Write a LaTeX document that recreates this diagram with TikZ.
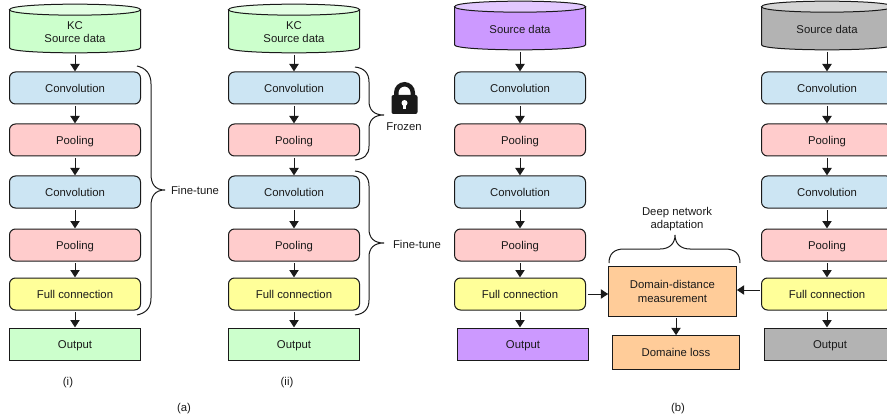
\documentclass[tikz,border=0pt]{standalone}
\usepackage{fontspec}
\setmainfont{Liberation Sans}
\usetikzlibrary{arrows.meta}
\definecolor{ink}{HTML}{1A1A1A}
\definecolor{cgreen}{HTML}{CCFFCC}
\definecolor{cgreenl}{HTML}{E4FFE4}
\definecolor{cblue}{HTML}{CCE5F3}
\definecolor{cpink}{HTML}{FFCCCC}
\definecolor{cyell}{HTML}{FFFF99}
\definecolor{cpurp}{HTML}{CC99FF}
\definecolor{cpurpl}{HTML}{E2C8FF}
\definecolor{cgrey}{HTML}{B3B3B3}
\definecolor{cgreyl}{HTML}{D4D4D4}
\definecolor{corng}{HTML}{FFCC99}
\newcommand{\dbshape}[3]{%
  \path (#1.north west) ++(0,5.5) coordinate (#1tl);
  \path (#1.north east) ++(0,5.5) coordinate (#1tr);
  \path (#1.south west) ++(0,-5) coordinate (#1bl);
  \path (#1.south east) ++(0,-5) coordinate (#1br);
  \draw[dbline,fill=#2] (#1tl) -- (#1bl) .. controls ([yshift=-5pt]#1bl) and ([yshift=-5pt]#1br) .. (#1br) -- (#1tr) -- cycle;
  \draw[dbline,fill=#3] (#1tl) .. controls ([yshift=5.5pt]#1tl) and ([yshift=5.5pt]#1tr) .. (#1tr)
     .. controls ([yshift=-5.5pt]#1tr) and ([yshift=-5.5pt]#1tl) .. (#1tl) -- cycle;
}
\tikzset{
  x=0.75pt,y=-0.75pt,
  lbl/.style={font=\fontsize{8.5pt}{9.9pt}\selectfont,text=ink,align=center,inner sep=0pt,outer sep=0pt},
  one/.style={lbl,text height=6.1pt,text depth=0pt},
  base/.style={draw=ink,line width=0.75pt,minimum width=98.25pt,minimum height=24pt},
  rbox/.style={one,base,rounded corners=4.5pt},
  conv/.style={rbox,fill=cblue},
  pool/.style={rbox,fill=cpink},
  full/.style={rbox,fill=cyell},
  outp/.style={one,base},
  orng/.style={base,fill=corng,minimum width=95.5pt},
  db/.style={inner sep=0pt,outer sep=0pt,minimum width=98.25pt},
  dbline/.style={draw=ink,line width=0.75pt},
  arr/.style={draw=ink,line width=0.75pt,-{Triangle[length=5.5pt,width=7pt]},shorten >=0.5pt,shorten <=1.5pt},
  brace/.style={draw=ink,line width=0.75pt},
}
\begin{document}
\begin{tikzpicture}
\useasboundingbox (0,0) rectangle (887,420);
% column (i)
\node[db,minimum height=36.5pt] (s1) at (75,28.5) {};
\dbshape{s1}{cgreen}{cgreenl}
\node[lbl] (s1t) at (75,32) {KC\\Source data};
\node[conv] (a1) at (75,88) {Convolution};
\node[pool] (b1) at (75,140) {Pooling};
\node[conv] (c1) at (75,192) {Convolution};
\node[pool] (d1) at (75,245) {Pooling};
\node[full] (e1) at (75,294) {Full connection};
\node[outp,fill=cgreen] (f1) at (75,344) {Output};
% column (ii)
\node[db,minimum height=36.5pt] (s2) at (294,28.5) {};
\dbshape{s2}{cgreen}{cgreenl}
\node[lbl] (s2t) at (294,32) {KC\\Source data};
\node[conv] (a2) at (294,88) {Convolution};
\node[pool] (b2) at (294,140) {Pooling};
\node[conv] (c2) at (294,192) {Convolution};
\node[pool] (d2) at (294,245) {Pooling};
\node[full] (e2) at (294,294) {Full connection};
\node[outp,fill=cgreen] (f2) at (294,344) {Output};
% column 3
\node[db,minimum height=36.5pt] (s3) at (520,25.5) {};
\dbshape{s3}{cpurp}{cpurpl}
\node[one] (s3t) at (520,29) {Source data};
\node[conv] (a3) at (520,88) {Convolution};
\node[pool] (b3) at (520,140) {Pooling};
\node[conv] (c3) at (520,192) {Convolution};
\node[pool] (d3) at (520,245) {Pooling};
\node[full] (e3) at (520,294) {Full connection};
\node[outp,fill=cpurp] (f3) at (523,344) {Output};
% column 4
\node[db,minimum height=36.5pt] (s4) at (827,25.5) {};
\dbshape{s4}{cgrey}{cgreyl}
\node[one] (s4t) at (827,29) {Source data};
\node[conv] (a4) at (827,88) {Convolution};
\node[pool] (b4) at (827,140) {Pooling};
\node[conv] (c4) at (827,192) {Convolution};
\node[pool] (d4) at (827,245) {Pooling};
\node[full] (e4) at (827,294) {Full connection};
\node[outp,fill=cgrey] (f4) at (830,344) {Output};
% centre
\node[lbl,orng,minimum height=37pt] (dm) at (672.5,291.5) {Domain-distance\\measurement};
\node[one,orng,minimum height=25pt] (dl) at (676,352.5) {Domaine loss};
% arrows
\foreach \k in {1,2,3,4}{
  \draw[arr] (s\k.south) -- (a\k.north);
  \draw[arr] (a\k) -- (b\k);
  \draw[arr] (b\k) -- (c\k);
  \draw[arr] (c\k) -- (d\k);
  \draw[arr] (d\k) -- (e\k);
}
\draw[arr] (e1) -- (f1);
\draw[arr] (e2) -- (f2);
\draw[arr] (e3.south) -- (e3.south|-f3.north);
\draw[arr] (e4.south) -- (e4.south|-f4.north);
\draw[arr] (e3.east) -- (dm.west|-e3.east);
\coordinate (r4) at (e4.west|-0,290);
\draw[arr] (r4) -- (dm.east|-r4);
\draw[arr] (dm.south-|dl.north) -- (dl.north);
% braces
\coordinate (q1) at (137,66);\coordinate (q2) at (137,315);\coordinate (q3) at (165,190);
\draw[brace] (q1) .. controls (146,68) and (151,74) .. (151,84) -- (151,174)
  .. controls (151,184) and (155,190) .. (q3) .. controls (155,190) and (151,196) .. (151,206)
  -- (151,298) .. controls (151,308) and (146,313) .. (q2);
\coordinate (q4) at (355,67);\coordinate (q5) at (355,160);\coordinate (q6) at (384,115);
\draw[brace] (q4) .. controls (364,68) and (369,73) .. (369,82) -- (369,101)
  .. controls (369,110) and (374,115) .. (q6) .. controls (374,115) and (369,120) .. (369,129)
  -- (369,146) .. controls (369,155) and (364,159) .. (q5);
\coordinate (q7) at (355,171);\coordinate (q8) at (355,315);\coordinate (q9) at (384,243);
\draw[brace] (q7) .. controls (364,172) and (369,177) .. (369,186) -- (369,229)
  .. controls (369,238) and (374,243) .. (q9) .. controls (374,243) and (369,248) .. (369,257)
  -- (369,300) .. controls (369,309) and (364,314) .. (q8);
\coordinate (q10) at (609,263);\coordinate (q11) at (740,263);\coordinate (q12) at (675,235);
\draw[brace] (q10) .. controls (609,254) and (614,249) .. (624,249) -- (660,249)
  .. controls (669,249) and (675,244) .. (q12) .. controls (675,244) and (681,249) .. (690,249)
  -- (725,249) .. controls (735,249) and (740,254) .. (q11);
% lock
\fill[ink] (394,98) -- (394,92.5) arc[start angle=180,end angle=360,x radius=10.5,y radius=10.5] -- (415,98) -- (410.5,98)
  -- (410.5,92.5) arc[start angle=360,end angle=180,x radius=6,y radius=6] -- (398.5,98) -- cycle;
\fill[ink,rounded corners=1.5pt] (391.5,95) rectangle (417.5,114);
\fill[white] (404.5,103) circle[radius=3];
\fill[white] (403.3,103) rectangle (405.7,109);
% labels
\node[one] (t1) at (195,190) {Fine-tune};
\node[one] (t2) at (417,244) {Fine-tune};
\node[one] (t3) at (404,126) {Frozen};
\node[lbl] (t4) at (677,219) {Deep network\\adaptation};
\node[one] (t5) at (68,381) {(i)};
\node[one] (t6) at (287,381) {(ii)};
\node[one] (t7) at (184,407) {(a)};
\node[one] (t8) at (678,407) {(b)};
\end{tikzpicture}
\end{document}
